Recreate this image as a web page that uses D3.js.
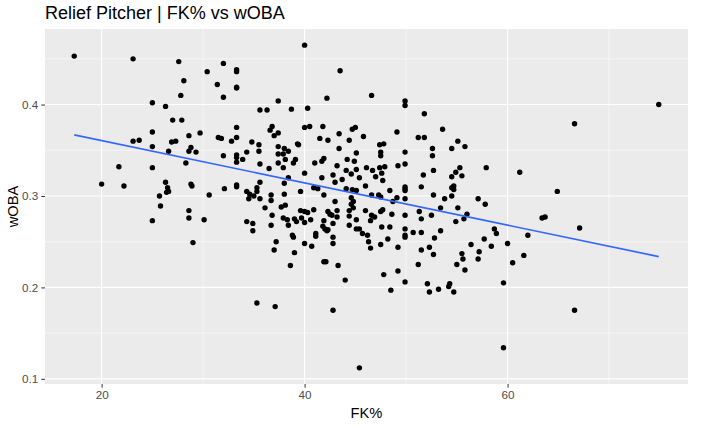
<html>
    <head>
        <script src="https://d3js.org/d3.v7.min.js"></script>
        <style>
        body { margin: 0; background: #fff; }
        text { font-family: "Liberation Sans", Arial, sans-serif; }
        .axis .domain { stroke: none; }
        .axis line { stroke: #333; }
        .axis text { fill: #4d4d4d; font-size: 11.7px; }
        </style>
    </head>
    <body>
        <svg id="chart" width="719" height="430"></svg>
        <script>
            // values
            const fk = [
                17.3,23.1,27.6,32.0,30.4,33.3,33.3,28.1,31.4,33.3,33.3,27.8,32.0,25.0,26.3,27.0,27.9,33.3,25.0,29.7,
                28.6,31.5,31.8,33.3,23.1,23.7,26.9,27.3,32.8,34.8,35.5,25.0,40.0,43.5,42.2,46.6,49.9,49.9,37.4,35.6,
                36.3,38.7,40.3,51.8,36.8,36.6,37.0,37.4,40.0,40.5,41.8,44.7,45.0,43.4,41.5,42.3,44.4,45.8,49.1,51.2,
                51.8,53.6,55.1,47.4,47.8,39.3,39.4,74.9,66.6,26.6,28.6,28.8,29.3,32.0,33.3,33.3,33.3,34.3,33.9,35.5,
                28.3,21.7,25.0,35.6,20.0,22.2,26.3,26.5,26.6,26.4,28.8,28.9,32.1,33.3,33.3,35.6,30.6,25.7,25.8,28.6,
                28.6,30.1,25.0,29.0,34.3,34.5,34.6,35.0,35.3,35.3,35.6,34.3,34.9,34.9,35.3,37.1,42.8,44.0,45.4,47.8,
                49.2,49.9,48.5,52.1,52.3,53.2,54.2,54.3,54.7,55.8,59.6,66.6,59.6,57.9,61.2,64.9,57.1,57.8,63.4,63.7,
                67.1,58.7,58.9,62.0,57.7,56.4,58.4,60.0,57.2,57.1,61.6,60.5,37.4,38.0,37.4,38.4,37.9,43.4,45.1,47.5,
                49.9,52.6,54.5,55.8,36.5,37.4,37.9,38.1,38.9,39.1,41.0,41.7,41.9,43.2,44.2,44.9,45.1,47.5,49.9,49.2,
                52.6,51.7,52.7,54.5,54.9,55.3,55.5,46.1,46.7,47.4,47.9,47.6,47.0,44.1,44.6,42.8,41.7,40.0,38.4,38.0,
                43.0,43.7,45.4,46.0,47.7,39.6,40.9,41.3,41.9,44.1,44.7,45.1,46.6,47.3,47.5,48.4,49.9,49.9,49.9,49.1,
                49.9,51.5,52.7,54.5,54.7,54.7,54.5,53.8,48.7,38.0,36.7,36.7,44.6,44.8,44.6,44.8,43.0,36.1,37.7,38.1,
                36.8,39.6,40.0,40.3,40.9,42.3,42.5,42.7,43.2,43.2,44.4,44.4,45.1,46.0,46.6,46.9,46.5,47.5,47.7,48.6,
                49.9,51.3,51.5,52.5,53.4,55.1,54.9,56.0,55.7,37.9,38.3,38.4,36.7,39.0,39.2,39.7,40.0,40.6,41.9,41.8,
                42.0,42.2,42.3,42.8,44.4,45.1,45.4,45.7,46.2,47.6,48.4,49.9,49.9,50.7,51.5,53.4,52.8,41.1,41.1,42.8,
                42.8,38.8,38.9,37.2,37.0,39.0,40.0,40.7,46.3,46.5,47.5,48.2,49.2,49.9,51.5,52.3,52.7,55.5,55.6,55.0,
                51.2,38.6,41.9,42.1,43.3
            ];
            const woba = [
                0.453,0.450,0.447,0.445,0.436,0.438,0.436,0.426,0.422,0.419,0.418,0.410,0.408,0.402,0.398,0.383,0.383,0.375,0.370,0.369,
                0.366,0.364,0.363,0.364,0.360,0.361,0.359,0.360,0.360,0.359,0.356,0.354,0.465,0.437,0.407,0.410,0.404,0.399,0.404,0.394,
                0.394,0.395,0.396,0.390,0.376,0.372,0.366,0.369,0.375,0.376,0.376,0.373,0.375,0.368,0.363,0.361,0.361,0.365,0.370,0.364,
                0.364,0.373,0.360,0.356,0.357,0.357,0.356,0.400,0.379,0.349,0.349,0.353,0.348,0.344,0.345,0.342,0.337,0.348,0.340,0.349,
                0.336,0.332,0.331,0.335,0.313,0.311,0.315,0.309,0.305,0.304,0.313,0.311,0.308,0.312,0.310,0.315,0.301,0.300,0.289,0.284,
                0.276,0.274,0.273,0.249,0.305,0.297,0.302,0.300,0.309,0.305,0.297,0.272,0.270,0.262,0.183,0.179,0.175,0.208,0.112,0.214,
                0.218,0.206,0.197,0.204,0.195,0.198,0.201,0.204,0.195,0.219,0.205,0.175,0.134,0.331,0.326,0.305,0.297,0.291,0.276,0.277,
                0.265,0.264,0.259,0.257,0.253,0.247,0.245,0.248,0.239,0.231,0.235,0.227,0.354,0.352,0.346,0.349,0.346,0.352,0.347,0.348,
                0.348,0.352,0.352,0.354,0.330,0.336,0.331,0.340,0.336,0.340,0.336,0.338,0.341,0.333,0.340,0.338,0.329,0.344,0.335,0.333,
                0.344,0.323,0.328,0.321,0.326,0.331,0.322,0.331,0.328,0.331,0.332,0.325,0.321,0.328,0.324,0.323,0.320,0.325,0.320,0.314,
                0.315,0.318,0.320,0.311,0.317,0.305,0.309,0.308,0.301,0.308,0.307,0.306,0.301,0.301,0.299,0.306,0.310,0.308,0.306,0.298,
                0.297,0.310,0.301,0.309,0.311,0.307,0.300,0.297,0.294,0.302,0.301,0.295,0.298,0.294,0.291,0.287,0.294,0.287,0.288,0.290,
                0.279,0.284,0.283,0.282,0.285,0.283,0.280,0.279,0.284,0.277,0.284,0.278,0.274,0.284,0.279,0.277,0.273,0.283,0.285,0.280,
                0.279,0.283,0.275,0.279,0.287,0.287,0.272,0.280,0.275,0.276,0.274,0.268,0.268,0.275,0.272,0.276,0.271,0.274,0.273,0.267,
                0.264,0.262,0.263,0.270,0.268,0.264,0.264,0.259,0.257,0.266,0.266,0.264,0.257,0.260,0.260,0.262,0.254,0.259,0.256,0.255,
                0.248,0.257,0.255,0.250,0.241,0.238,0.248,0.245,0.250,0.243,0.247,0.253,0.244,0.255,0.241,0.244,0.236,0.237,0.231,0.225,
                0.225,0.224,0.228,0.228,0.224
            ];
            const xTicks = [20, 40, 60];
            const xMinor = [30, 50, 70];
            const yTicks = [0.1, 0.2, 0.3, 0.4];
            const yMinor = [0.15, 0.25, 0.35, 0.45];
            const title = 'Relief Pitcher | FK% vs wOBA';

            const data = fk.map((d, i) => ({fk: d, woba: woba[i]}));

            const svg = d3.select('svg#chart');
            const margins = {top: 29, right: 31, bottom: 46, left: 45};
            const chartWidth = 719 - margins.left - margins.right;
            const chartHeight = 430 - margins.top - margins.bottom;

            // ggplot style 5% padding on both ends
            const pad = (ext) => {
                const p = (ext[1] - ext[0]) * 0.05;
                return [ext[0] - p, ext[1] + p];
            };
            const xExtent = d3.extent(data, d => d.fk);
            const yExtent = d3.extent(data, d => d.woba);
            const xScale = d3.scaleLinear().domain(pad(xExtent)).range([0, chartWidth]);
            const yScale = d3.scaleLinear().domain(pad(yExtent)).range([chartHeight, 0]);

            const chartArea = svg.append('g')
                .attr('transform', `translate(${margins.left},${margins.top})`);

            chartArea.append('rect')
                .attr('width', chartWidth)
                .attr('height', chartHeight)
                .attr('fill', '#ebebeb');

            // minor grid
            chartArea.selectAll('line.xminor').data(xMinor).join('line')
                .attr('x1', d => xScale(d)).attr('x2', d => xScale(d))
                .attr('y1', 0).attr('y2', chartHeight)
                .attr('stroke', '#fff').attr('stroke-width', 0.55);
            chartArea.selectAll('line.yminor').data(yMinor).join('line')
                .attr('y1', d => yScale(d)).attr('y2', d => yScale(d))
                .attr('x1', 0).attr('x2', chartWidth)
                .attr('stroke', '#fff').attr('stroke-width', 0.55);

            // major grid
            chartArea.selectAll('line.xmajor').data(xTicks).join('line')
                .attr('x1', d => xScale(d)).attr('x2', d => xScale(d))
                .attr('y1', 0).attr('y2', chartHeight)
                .attr('stroke', '#fff').attr('stroke-width', 1.1);
            chartArea.selectAll('line.ymajor').data(yTicks).join('line')
                .attr('y1', d => yScale(d)).attr('y2', d => yScale(d))
                .attr('x1', 0).attr('x2', chartWidth)
                .attr('stroke', '#fff').attr('stroke-width', 1.1);

            chartArea.selectAll('circle.points').data(data).join('circle')
                .attr('class', 'points')
                .attr('cx', d => xScale(d.fk))
                .attr('cy', d => yScale(d.woba))
                .attr('r', 2.7)
                .attr('fill', '#000');

            // linear fit, like geom_smooth(method = "lm", se = FALSE)
            const mx = d3.mean(data, d => d.fk);
            const my = d3.mean(data, d => d.woba);
            const sxy = d3.sum(data, d => (d.fk - mx) * (d.woba - my));
            const sxx = d3.sum(data, d => (d.fk - mx) ** 2);
            const slope = sxy / sxx;
            const intercept = my - slope * mx;
            const fit = xExtent.map(x => ({fk: x, woba: intercept + slope * x}));

            chartArea.append('path')
                .datum(fit)
                .attr('fill', 'none')
                .attr('stroke', '#3366ff')
                .attr('stroke-width', 1.6)
                .attr('d', d3.line().x(d => xScale(d.fk)).y(d => yScale(d.woba)));

            const leftAxis = d3.axisLeft(yScale).tickValues(yTicks).tickSize(3.7).tickPadding(3).tickFormat(d3.format('.1f'));
            svg.append('g')
                .attr('class', 'y axis')
                .attr('transform', `translate(${margins.left},${margins.top})`)
                .call(leftAxis);

            const bottomAxis = d3.axisBottom(xScale).tickValues(xTicks).tickSize(3.7).tickPadding(3);
            svg.append('g')
                .attr('class', 'x axis')
                .attr('transform', `translate(${margins.left},${margins.top + chartHeight})`)
                .call(bottomAxis);

            svg.append('text')
                .attr('x', margins.left + chartWidth / 2)
                .attr('y', 418)
                .attr('text-anchor', 'middle')
                .attr('font-size', '14.7px')
                .attr('fill', '#000')
                .text('FK%');

            svg.append('text')
                .attr('transform', `translate(18,${margins.top + chartHeight / 2}) rotate(-90)`)
                .attr('text-anchor', 'middle')
                .attr('font-size', '14.7px')
                .attr('fill', '#000')
                .text('wOBA');

            svg.append('text')
                .attr('x', margins.left)
                .attr('y', 19)
                .attr('font-size', '18px')
                .attr('fill', '#000')
                .text(title);
        </script>
    </body>
</html>
